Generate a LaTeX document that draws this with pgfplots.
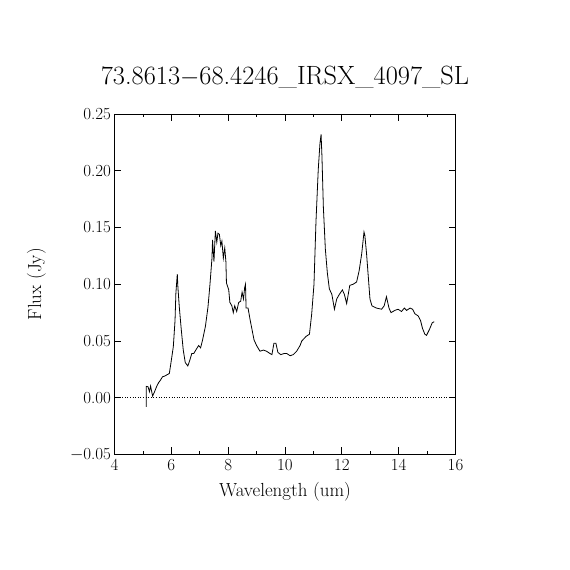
\documentclass[border=0pt]{standalone}
\usepackage{pgfplots}
\pgfplotsset{compat=1.18}
\newcommand\tl{\fontsize{17}{17}\selectfont}
\begin{document}
\begin{tikzpicture}
\path[use as bounding box] (-114.5bp,-115.5bp) rectangle (455.5bp,454.5bp);
\begin{axis}[
  at={(0,0)}, anchor=south west,
  scale only axis, width=341bp, height=340.5bp,
  xmin=4, xmax=16, ymin=-0.05, ymax=0.25,
  xtick={4,6,...,16}, minor x tick num=1,
  ytick={-0.05,0,0.05,0.10,0.15,0.20,0.25},
  yticklabels={{\tl $-$0.05},{\tl 0.00},{\tl 0.05},{\tl 0.10},{\tl 0.15},{\tl 0.20},{\tl 0.25}},
  xticklabels={{\tl 4},{\tl 6},{\tl 8},{\tl 10},{\tl 12},{\tl 14},{\tl 16}},
  tick align=inside, major tick length=7bp, minor tick length=3.5bp,
  tick style={black, line width=0.7bp},
  axis line style={line width=0.8bp},
  xticklabel style={yshift=-1bp},
  title={73.8613$-$68.4246\_IRSX\_4097\_SL},
  title style={at={(axis description cs:0.5,1.0705)}, anchor=base, font=\fontsize{26.5}{26.5}\selectfont},
  xlabel={Wavelength (um)},
  xlabel style={at={(axis description cs:0.5,-0.1233)}, anchor=base, font=\fontsize{19}{19}\selectfont},
  ylabel={Flux (Jy)},
  ylabel style={at={(axis description cs:-0.2287,0.5)}, anchor=center, font=\fontsize{19}{19}\selectfont},
]
\addplot[black, dotted, line width=0.6bp, forget plot] coordinates {(4,0) (16,0)};
\addplot[black, line width=0.8bp, mark=none] coordinates {
(5.12,-0.008) (5.12,0.010) (5.18,0.0097) (5.23,0.0053) (5.27,0.0103) (5.34,0.0015)
(5.41,0.0053) (5.48,0.0097) (5.55,0.0132) (5.62,0.0156) (5.69,0.0185) (5.76,0.019)
(5.83,0.020) (5.93,0.0214) (6.00,0.033) (6.07,0.045) (6.13,0.068) (6.16,0.092)
(6.21,0.109) (6.23,0.098) (6.28,0.080) (6.35,0.060) (6.42,0.042) (6.49,0.031)
(6.58,0.028) (6.65,0.033) (6.72,0.039) (6.79,0.039) (6.86,0.042) (6.96,0.046)
(7.03,0.044) (7.10,0.051) (7.20,0.063) (7.29,0.080) (7.36,0.100) (7.43,0.123)
(7.45,0.139) (7.50,0.120) (7.55,0.147) (7.60,0.137) (7.64,0.145) (7.69,0.144)
(7.74,0.134) (7.78,0.138) (7.83,0.123) (7.88,0.132) (7.92,0.120) (7.94,0.101)
(8.02,0.095) (8.06,0.084) (8.13,0.081) (8.18,0.075) (8.23,0.081) (8.30,0.076)
(8.37,0.084) (8.44,0.085) (8.49,0.093) (8.54,0.087) (8.58,0.097) (8.61,0.100)
(8.63,0.079) (8.70,0.079) (8.77,0.069) (8.84,0.060) (8.91,0.051) (9.00,0.046)
(9.12,0.041) (9.24,0.042) (9.35,0.041) (9.47,0.039) (9.54,0.038) (9.61,0.048)
(9.68,0.048) (9.75,0.040) (9.85,0.038) (9.97,0.039) (10.06,0.039) (10.18,0.037)
(10.29,0.038) (10.41,0.041) (10.53,0.046) (10.59,0.050) (10.74,0.054) (10.86,0.056)
(10.94,0.074) (11.02,0.100) (11.09,0.155) (11.17,0.201) (11.23,0.224) (11.27,0.232)
(11.30,0.213) (11.35,0.168) (11.42,0.131) (11.49,0.110) (11.56,0.096) (11.65,0.091)
(11.74,0.078) (11.82,0.087) (11.91,0.091) (12.02,0.095) (12.09,0.091) (12.17,0.083)
(12.28,0.099) (12.40,0.100) (12.52,0.102) (12.61,0.112) (12.70,0.127) (12.78,0.146)
(12.81,0.143) (12.87,0.127) (12.93,0.107) (12.99,0.087) (13.06,0.081) (13.22,0.079)
(13.40,0.078) (13.49,0.081) (13.57,0.089) (13.66,0.079) (13.73,0.075) (13.87,0.077)
(13.98,0.078) (14.10,0.076) (14.20,0.079) (14.28,0.077) (14.40,0.079) (14.49,0.078)
(14.57,0.074) (14.69,0.072) (14.77,0.068) (14.84,0.061) (14.92,0.056) (14.98,0.055)
(15.08,0.060) (15.18,0.066) (15.25,0.067)
};
\end{axis}
\end{tikzpicture}
\end{document}
